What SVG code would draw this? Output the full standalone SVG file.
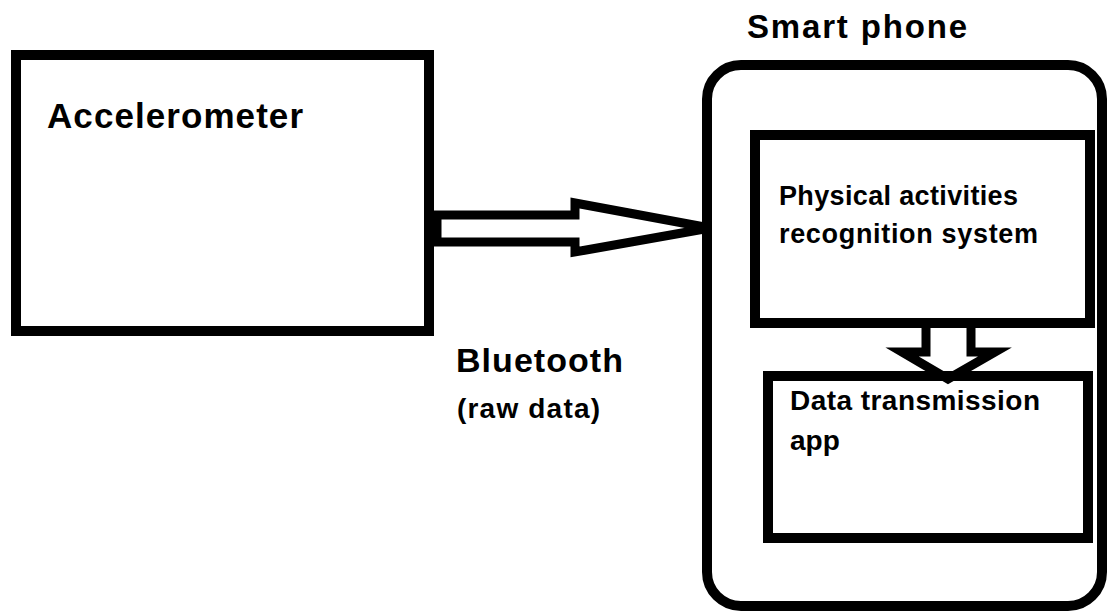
<svg xmlns="http://www.w3.org/2000/svg" width="1107" height="611" viewBox="0 0 1107 611">
<style>
.box{fill:none;stroke:#000;stroke-width:10}
.arr{fill:none;stroke:#000;stroke-width:9;stroke-linejoin:miter}
text{font-family:"Liberation Sans",Arial,sans-serif;font-weight:bold;fill:#000}
</style>
<rect width="1107" height="611" fill="#fff"/>
<g id="accelerometer">
<rect class="box" x="16" y="55" width="413" height="276"/>
<text x="47" y="128" font-size="35" textLength="256">Accelerometer</text>
</g>
<g id="smartphone">
<rect class="box" x="707" y="65" width="395" height="541" rx="34" ry="34"/>
<text x="747" y="38" font-size="33" textLength="220">Smart phone</text>
</g>
<g id="recognition">
<rect class="box" x="755" y="135" width="335" height="188"/>
<text x="779" y="205" font-size="27" textLength="239">Physical activities</text>
<text x="779" y="243" font-size="27" textLength="259">recognition system</text>
</g>
<g id="transmission">
<rect class="box" x="768" y="376" width="320" height="162"/>
<text x="790" y="410" font-size="28" textLength="250">Data transmission</text>
<text x="790" y="450" font-size="28">app</text>
</g>
<g id="connectors">
<path class="arr" d="M437 215 L575 215 L575 203 L710 228 L575 252 L575 242 L437 242 Z"/>
<path class="arr" d="M926 326 L926 352 L902 352 L948 379 L995 352 L971 352 L971 326"/>
<text x="456" y="372" font-size="34" textLength="167">Bluetooth</text>
<text x="457" y="418" font-size="28" textLength="143">(raw data)</text>
</g>
</svg>
